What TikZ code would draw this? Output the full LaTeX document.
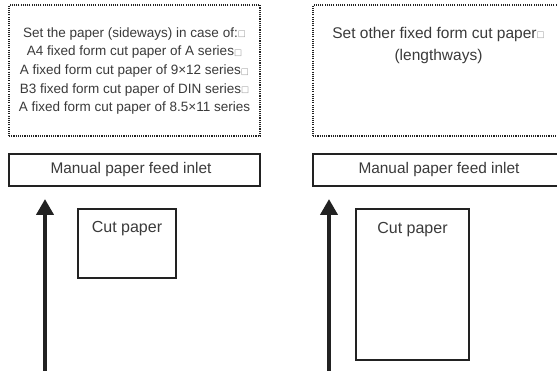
\documentclass[tikz,border=0pt]{standalone}
\usepackage{fontspec}
\setmainfont{Liberation Sans}
\newfontfamily\symfont{DejaVu Sans}
\usetikzlibrary{arrows.meta}
\definecolor{ink}{HTML}{222222}
\definecolor{txt}{HTML}{3A3A3A}
\newcommand{\tofu}{{\symfont\fontsize{8.5}{8.5}\selectfont\color{black!40}\raisebox{0.2pt}{□}}}
\tikzset{
  dotbox/.style={draw=ink, line width=1.1pt, dash pattern=on 1.1pt off 1.1pt, inner sep=0pt},
  solidbox/.style={draw=ink, line width=1.3pt, inner sep=0pt},
  feedarrow/.style={draw=ink, line width=4.6pt, -{Triangle[length=16pt,width=17pt]}},
  lbl/.style={text=txt, inner sep=0pt, align=center}
}
\begin{document}
\begin{tikzpicture}[x=1pt,y=-1pt]
\useasboundingbox (0,0) rectangle (557,371);
\clip (0,0) rectangle (557,371);
% top dotted boxes
\node[dotbox, minimum width=251pt, minimum height=131pt] (dl) at (134.5,70.5) {};
\node[lbl, font=\fontsize{13.5}{18.7}\selectfont] (tl) at (134.5,71) {Set the paper (sideways) in case of:\tofu\\A4 fixed form cut paper of A series\tofu\\A fixed form cut paper of 9×12 series\tofu\\B3 fixed form cut paper of DIN series\tofu\\A fixed form cut paper of 8.5×11 series};
\node[dotbox, minimum width=251pt, minimum height=131pt] (dr) at (438.5,70.5) {};
\node[lbl, font=\fontsize{15.5}{22}\selectfont] (tr) at (438.5,45) {Set other fixed form cut paper\tofu\\(lengthways)};
% feed inlet boxes
\node[solidbox, minimum width=251pt, minimum height=32pt] (il) at (134.5,170) {};
\node[lbl, font=\fontsize{15.4}{18}\selectfont] at (131,170) {Manual paper feed inlet};
\node[solidbox, minimum width=251pt, minimum height=32pt] (ir) at (438.5,170) {};
\node[lbl, font=\fontsize{15.4}{18}\selectfont] at (439,170) {Manual paper feed inlet};
% cut paper
\node[solidbox, minimum width=98pt, minimum height=69pt] (cl) at (127,243.5) {};
\node[lbl, font=\fontsize{16}{18}\selectfont] at ([yshift=-20pt]cl.north) {Cut paper};
\node[solidbox, minimum width=113pt, minimum height=151pt] (cr) at (412.5,284.5) {};
\node[lbl, font=\fontsize{16}{18}\selectfont] at ([yshift=-21pt]cr.north) {Cut paper};
% arrows
\coordinate (bl) at (45,372);
\coordinate (tpl) at (45,199);
\coordinate (br) at (329,372);
\coordinate (tpr) at (329,199);
\draw[feedarrow] (bl) -- (tpl);
\draw[feedarrow] (br) -- (tpr);
\end{tikzpicture}
\end{document}
